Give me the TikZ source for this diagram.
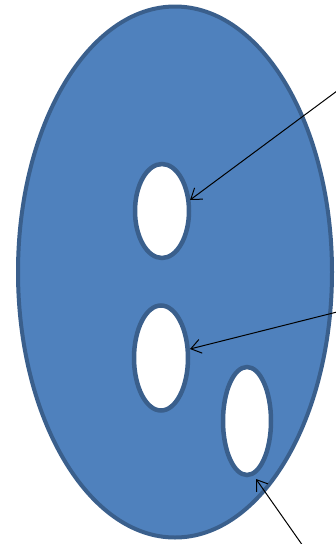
\documentclass[tikz,border=0pt]{standalone}
\usetikzlibrary{shapes.geometric,arrows.meta}
\definecolor{bodyfill}{HTML}{4F81BD}
\definecolor{bodyline}{HTML}{3A5F8C}
\tikzset{
  body/.style={ellipse, draw=bodyline, fill=bodyfill, line width=4pt, inner sep=0pt},
  hole/.style={ellipse, draw=bodyline, fill=white, line width=4.5pt, inner sep=0pt},
  pointer/.style={draw=black, line width=1pt, -{Straight Barb[length=10pt,width=14pt,line width=1pt]}}
}
\begin{document}
\begin{tikzpicture}[x=1pt,y=-1pt]
\useasboundingbox (0,0) rectangle (335,544);
\node[body, minimum width=314pt, minimum height=531pt] (b) at (175,272) {};
\node[hole, minimum width=54pt, minimum height=94pt] (h1) at (162,211) {};
\node[hole, minimum width=54pt, minimum height=105pt] (h2) at (161,358) {};
\node[hole, minimum width=48pt, minimum height=108pt] (h3) at (247,421) {};
\coordinate (s1) at (337,91);
\coordinate (s2) at (337,312);
\coordinate (s3) at (303,546);
\coordinate (t1) at (190,200);
\coordinate (t2) at (190,349);
\coordinate (t3) at (256,479);
\draw[pointer] (s1) -- (t1);
\draw[pointer] (s2) -- (t2);
\draw[pointer] (s3) -- (t3);
\end{tikzpicture}
\end{document}
